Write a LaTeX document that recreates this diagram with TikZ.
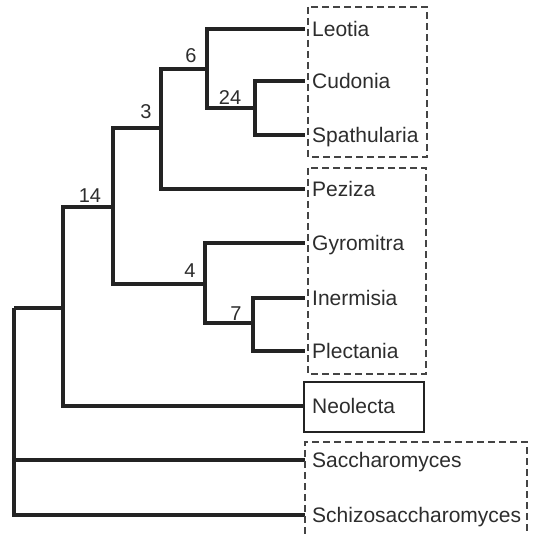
\documentclass[tikz,border=0pt]{standalone}
\usepackage{fontspec}
\setmainfont{Liberation Sans}
\usetikzlibrary{positioning}
\definecolor{TreeInk}{RGB}{35, 35, 35}
\definecolor{TreeText}{RGB}{45, 45, 45}

\tikzset{
  branch/.style={TreeInk, line width=3.2pt},
  taxon/.style={anchor=west, inner xsep=7pt, inner ysep=0pt, text height=15pt, text depth=0pt,
    text=TreeText, font=\fontsize{21}{25}\selectfont},
  support/.style={anchor=base, inner sep=0pt, text=TreeText, font=\fontsize{20}{24}\selectfont},
  cladebox/.style={TreeInk!85, line width=1.2pt, dash pattern=on 7pt off 4pt},
}

\begin{document}
\begin{tikzpicture}[x=1pt,y=-1pt]
  \path[use as bounding box] (0,0) rectangle (533,534);
  \fill[white] (0,0) rectangle (533,534);

  % taxa
  \node[taxon] (leotia) at (305,29) {Leotia};
  \node[taxon] (cudonia) at (305,81) {Cudonia};
  \node[taxon] (spath) at (305,135) {Spathularia};
  \node[taxon] (peziza) at (305,189) {Peziza};
  \node[taxon] (gyro) at (305,243) {Gyromitra};
  \node[taxon] (inerm) at (305,298) {Inermisia};
  \node[taxon] (plect) at (305,351) {Plectania};
  \node[taxon] (neol) at (305,406) {Neolecta};
  \node[taxon] (sacch) at (305,460) {Saccharomyces};
  \node[taxon] (schizo) at (305,515) {Schizosaccharomyces};

  % internal nodes
  \coordinate (n24) at (255,108);
  \coordinate (n6) at (207,69);
  \coordinate (n3) at (161,128);
  \coordinate (n7) at (253,323);
  \coordinate (n4) at (205,284);
  \coordinate (n14) at (113,207);
  \coordinate (nA) at (63,308);
  \coordinate (root) at (14,308);

  % branches
  \draw[branch] (n24) |- (cudonia.west);
  \draw[branch] (n24) |- (spath.west);
  \draw[branch] (n6) |- (leotia.west);
  \draw[branch] (n6) |- (n24);
  \draw[branch] (n3) |- (n6);
  \draw[branch] (n3) |- (peziza.west);
  \draw[branch] (n7) |- (inerm.west);
  \draw[branch] (n7) |- (plect.west);
  \draw[branch] (n4) |- (gyro.west);
  \draw[branch] (n4) |- (n7);
  \draw[branch] (n14) |- (n3);
  \draw[branch] (n14) |- (n4);
  \draw[branch] (nA) |- (n14);
  \draw[branch] (nA) |- (neol.west);
  \draw[branch] (root) |- (nA);
  \draw[branch] (root) |- (sacch.west);
  \draw[branch] (root) |- (schizo.west);

  % support values
  \node[support] (s6) at (191,63) {6};
  \node[support] (s24) at (230,105) {24};
  \node[support] (s3) at (146,119) {3};
  \node[support] (s14) at (90,203) {14};
  \node[support] (s4) at (190,277) {4};
  \node[support] (s7) at (236,320) {7};

  % clade boxes
  \draw[cladebox] (308,7) rectangle (427,157);
  \draw[cladebox] (308,168) rectangle (426,374);
  \draw[TreeInk, line width=2pt] (304,382) rectangle (424,432);
  \draw[cladebox] (305,534) -- (305,442) -- (527,442) -- (527,534);
\end{tikzpicture}
\end{document}
